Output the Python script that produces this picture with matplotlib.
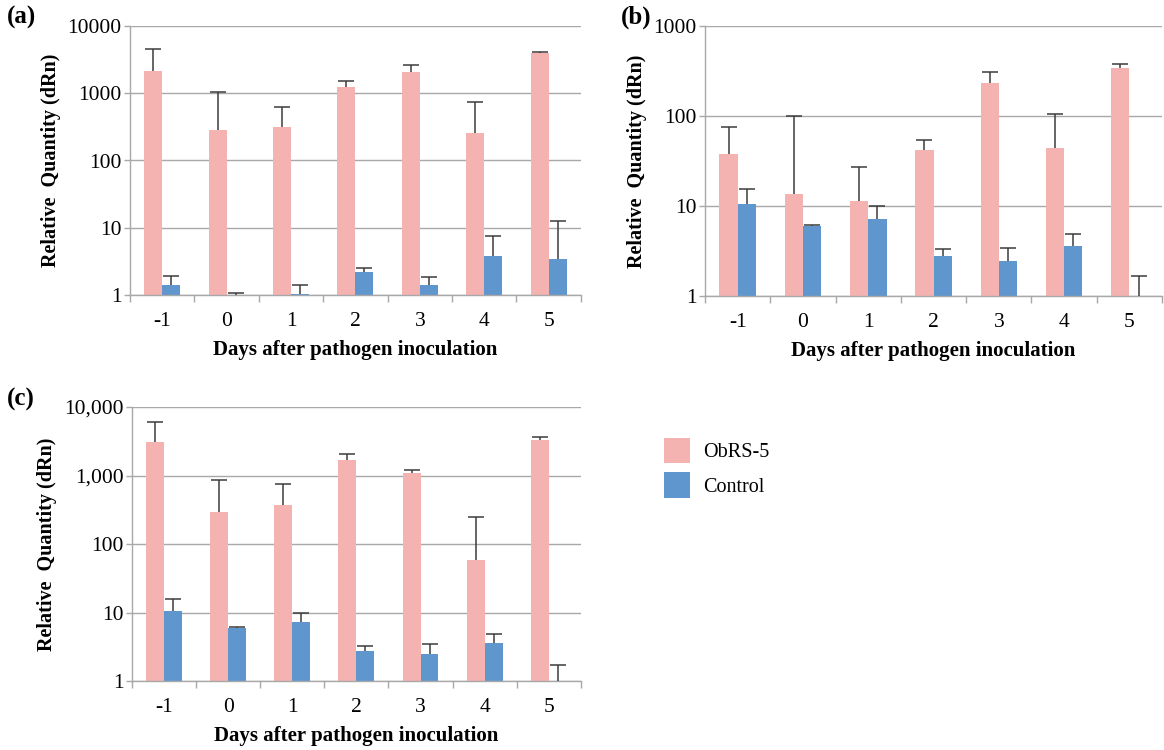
import numpy as np
import matplotlib
matplotlib.use("Agg")
import matplotlib.pyplot as plt
from matplotlib.ticker import FixedLocator, FuncFormatter
from matplotlib.patches import Patch

plt.rcParams['font.family'] = ['Liberation Serif', 'DejaVu Serif']

days = ["-1", "0", "1", "2", "3", "4", "5"]
series_names = ["ObRS-5", "Control"]

# Panel (a)
a_obrs = [2150, 285, 310, 1260, 2100, 255, 3960]
a_obrs_err_top = [4500, 1030, 625, 1510, 2600, 735, 4100]
a_ctrl = [1.39, 1.0, 1.05, 2.17, 1.39, 3.84, 3.39]
a_ctrl_err_top = [1.92, 1.07, 1.41, 2.52, 1.87, 7.5, 12.7]

# Panel (b)
b_obrs = [38, 13.7, 11.5, 42.4, 232, 44, 346]
b_obrs_err_top = [75, 100, 27, 54.7, 310, 105, 380]
b_ctrl = [10.6, 6.0, 7.2, 2.77, 2.46, 3.58, 1.0]
b_ctrl_err_top = [15.6, 6.1, 10.0, 3.29, 3.43, 4.86, 1.68]

# Panel (c)
c_obrs = [3075, 294, 372, 1695, 1082, 59, 3290]
c_obrs_err_top = [5970, 854, 764, 2050, 1210, 248, 3680]
c_ctrl = [10.6, 6.03, 7.2, 2.78, 2.48, 3.56, 1.0]
c_ctrl_err_top = [15.7, 6.1, 10.0, 3.29, 3.48, 4.93, 1.7]

y_ticks_a = [1, 10, 100, 1000, 10000]
y_ticks_b = [1, 10, 100, 1000]
y_ticks_c = [1, 10, 100, 1000, 10000]

PINK = "#F4B2B1"
BLUE = "#5F96CE"
GRID = "#A8A8A8"
ERR = "#3C3C3C"

fig = plt.figure(figsize=(11.64, 7.5), dpi=100)


def upper_err(ax, x, vals, tops):
    v = np.array(vals, dtype=float)
    t = np.array(tops, dtype=float)
    line, caps, bars = ax.errorbar(x, v, yerr=[np.zeros(len(v)), t - v], fmt='none',
                                   ecolor=ERR, elinewidth=1.1, capsize=6, capthick=1.1,
                                   zorder=3)
    if len(caps) == 2:
        caps[0].set_visible(False)


def panel(rect, obrs, obrs_top, ctrl, ctrl_top, yticks, comma, tag, tagpos):
    ax = fig.add_axes(rect)
    ax.set_yscale('log')
    n = len(days)
    x = np.arange(n)
    w = 0.28
    ax.bar(x - w / 2, obrs, width=w, color=PINK, zorder=2)
    ax.bar(x + w / 2, ctrl, width=w, color=BLUE, zorder=2)
    upper_err(ax, x - w / 2, obrs, obrs_top)
    upper_err(ax, x + w / 2, ctrl, ctrl_top)
    ax.set_xlim(-0.5, n - 0.5)
    ax.set_ylim(yticks[0], yticks[-1])
    ax.yaxis.set_major_locator(FixedLocator(yticks))
    ax.yaxis.set_minor_locator(FixedLocator([]))
    if comma:
        ax.yaxis.set_major_formatter(FuncFormatter(lambda v, p: f"{int(round(v)):,}"))
    else:
        ax.yaxis.set_major_formatter(FuncFormatter(lambda v, p: f"{int(round(v))}"))
    ax.grid(axis='y', color=GRID, linewidth=1.0, zorder=0)
    ax.set_axisbelow(True)
    ax.set_xticks(x)
    ax.set_xticklabels(days)
    ax.set_xticks(np.arange(n + 1) - 0.5, minor=True)
    ax.tick_params(axis='x', which='major', length=0, pad=12, labelsize=15.5)
    ax.tick_params(axis='x', which='minor', length=5, color=GRID, width=1.0)
    ax.tick_params(axis='y', which='major', length=4, color=GRID, width=1.0,
                   labelsize=15.5, pad=2)
    for s in ['top', 'right']:
        ax.spines[s].set_visible(False)
    for s in ['left', 'bottom']:
        ax.spines[s].set_color(GRID)
        ax.spines[s].set_linewidth(1.0)
    ax.set_xlabel("Days after pathogen inoculation", fontsize=15, fontweight='bold', labelpad=7)
    ax.set_ylabel("Relative  Quantity (dRn)", fontsize=14.5, fontweight='bold', labelpad=5)
    fig.text(tagpos[0], tagpos[1], tag, fontsize=18, fontweight='bold', ha='left', va='center')
    return ax


ax_a = panel([0.1117, 0.6067, 0.3873, 0.3586], a_obrs, a_obrs_err_top, a_ctrl, a_ctrl_err_top,
             y_ticks_a, False, "(a)", (0.006, 0.977))
ax_b = panel([0.6057, 0.6053, 0.3926, 0.36], b_obrs, b_obrs_err_top, b_ctrl, b_ctrl_err_top,
             y_ticks_b, False, "(b)", (0.533, 0.977))
ax_c = panel([0.1134, 0.092, 0.3856, 0.3653], c_obrs, c_obrs_err_top, c_ctrl, c_ctrl_err_top,
             y_ticks_c, True, "(c)", (0.006, 0.468))

handles = [Patch(facecolor=PINK, edgecolor='none'), Patch(facecolor=BLUE, edgecolor='none')]
fig.legend(handles, series_names, loc='upper left', bbox_to_anchor=(664 / 1164, 1 - 438 / 750),
           frameon=False, fontsize=14.5, handlelength=1.3, handleheight=1.55,
           handletextpad=0.65, labelspacing=0.45, borderpad=0, borderaxespad=0)

fig.savefig("out.png", dpi=100)
